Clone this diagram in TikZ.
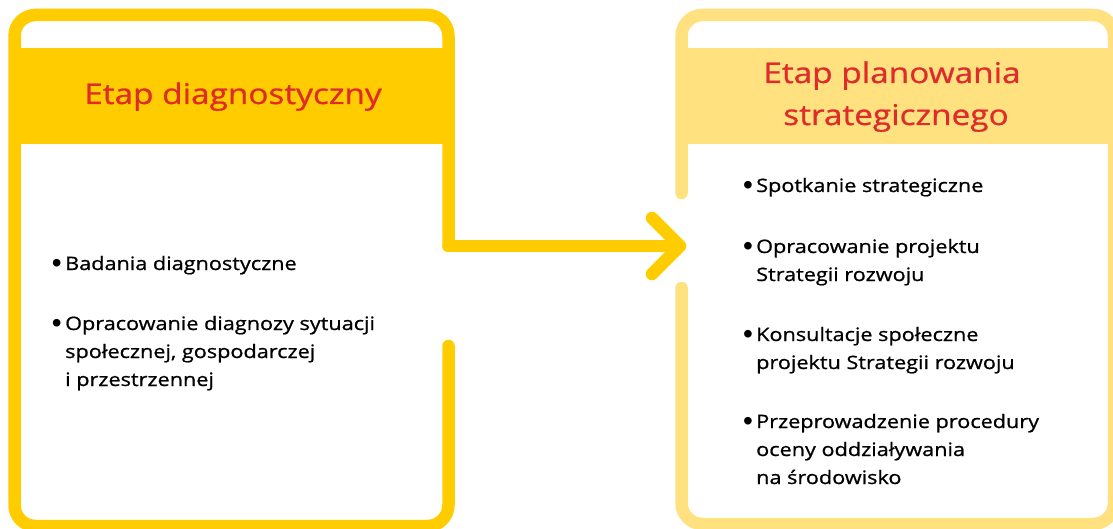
\documentclass[tikz,border=0pt]{standalone}
\usepackage{fontspec}
\setmainfont{Open Sans}[FakeStretch=1.17, FakeBold=0.9]
\newfontfamily\bulletfont{Liberation Sans}
\usetikzlibrary{calc}
\definecolor{gold}{HTML}{FFCC00}
\definecolor{lightgold}{HTML}{FFE180}
\definecolor{titlered}{HTML}{E02B2B}
\tikzset{
  frame/.style={line width=12.5pt, line cap=round, line join=round, rounded corners=21pt},
  titletext/.style={text=titlered, font=\fontsize{28.5}{34}\selectfont, anchor=base, inner sep=0pt},
  bodytext/.style={text=black, font=\fontsize{18.5}{28}\selectfont, anchor=base west, inner sep=0pt},
  bulletmark/.style={text=black, font=\bulletfont\fontsize{28}{28}\selectfont, anchor=base east, inner sep=0pt}
}
\begin{document}
\begin{tikzpicture}[x=1pt,y=-1pt]
\useasboundingbox (0,0) rectangle (1113,529);
% header bands
\fill[gold] (14.5,48) rectangle (448.5,144);
\fill[lightgold] (681.5,48) rectangle (1114,144);
% frames
\draw[gold, frame] (448.5,346) -- (448.5,526) -- (14.5,526) -- (14.5,15) -- (448.5,15) -- (448.5,246);
\draw[lightgold, frame] (681.5,193) -- (681.5,15) -- (1114,15) -- (1114,524) -- (681.5,524) -- (681.5,288);
% arrow
\coordinate (aS) at (448.5,246);
\coordinate (aE) at (680,246);
\draw[gold, line width=12.5pt, line cap=round] (aS) -- (aE);
\draw[gold, line width=12.5pt, line cap=round, line join=round] ($(aE)+(-28,-28)$) -- (aE) -- ($(aE)+(-28,28)$);
% titles
\node[titletext] (t1) at (233,104) {Etap diagnostyczny};
\node[titletext] (t2a) at (892,83) {Etap planowania};
\node[titletext] (t2b) at (896,125) {strategicznego};
% left body
\node[bodytext] (l1) at (65,270) {Badania diagnostyczne};
\node[bulletmark] (l1b) at ($(l1.base west)+(-3,2.5)$) {•};
\node[bodytext] (l2) at (65,330) {Opracowanie diagnozy sytuacji};
\node[bulletmark] (l2b) at ($(l2.base west)+(-3,2.5)$) {•};
\node[bodytext] (l2c) at (65,358) {społecznej, gospodarczej};
\node[bodytext] (l2d) at (65,386) {i przestrzennej};
% right body
\node[bodytext] (r1) at (756,192) {Spotkanie strategiczne};
\node[bulletmark] (r1b) at ($(r1.base west)+(-3,2.5)$) {•};
\node[bodytext] (r2) at (756,253) {Opracowanie projektu};
\node[bulletmark] (r2b) at ($(r2.base west)+(-3,2.5)$) {•};
\node[bodytext] (r2c) at (756,281) {Strategii rozwoju};
\node[bodytext] (r3) at (756,341) {Konsultacje społeczne};
\node[bulletmark] (r3b) at ($(r3.base west)+(-3,2.5)$) {•};
\node[bodytext] (r3c) at (756,369) {projektu Strategii rozwoju};
\node[bodytext] (r4) at (756,428) {Przeprowadzenie procedury};
\node[bulletmark] (r4b) at ($(r4.base west)+(-3,2.5)$) {•};
\node[bodytext] (r4c) at (756,456) {oceny oddziaływania};
\node[bodytext] (r4d) at (756,484) {na środowisko};
\end{tikzpicture}
\end{document}
